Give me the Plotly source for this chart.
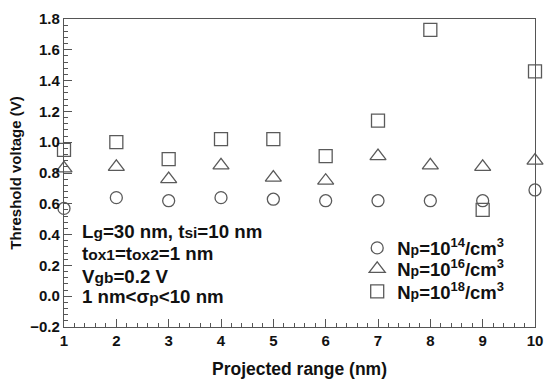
import plotly.graph_objects as go

x_range_nm = [1, 2, 3, 4, 5, 6, 7, 8, 9, 10]
vth_np14 = [0.57, 0.64, 0.62, 0.64, 0.63, 0.62, 0.62, 0.62, 0.62, 0.69]
vth_np16 = [0.83, 0.84, 0.76, 0.85, 0.77, 0.75, 0.91, 0.85, 0.84, 0.88]
vth_np18 = [0.95, 1.00, 0.89, 1.02, 1.02, 0.91, 1.14, 1.73, 0.56, 1.46]

series_names = [
    "N<span style='font-size:14px'>p</span>=10<sup>14</sup>/cm<sup>3</sup>",
    "N<span style='font-size:14px'>p</span>=10<sup>16</sup>/cm<sup>3</sup>",
    "N<span style='font-size:14px'>p</span>=10<sup>18</sup>/cm<sup>3</sup>",
]
series_symbols = ["circle-open", "triangle-up-open", "square-open"]
series_sizes = [12, 14, 13]
series_values = [vth_np14, vth_np16, vth_np18]
legend_ids = ["legend", "legend2", "legend3"]
legend_y = [0.317, 0.249, 0.176]

FONT = "Liberation Sans, Arial, sans-serif"
MCOL = "#5a5a5a"

fig = go.Figure()
for name, sym, sz, vals, lg in zip(series_names, series_symbols, series_sizes, series_values, legend_ids):
    fig.add_trace(go.Scatter(
        x=x_range_nm, y=vals, mode="markers", name=name, cliponaxis=False, legend=lg,
        marker=dict(symbol=sym, size=sz, color=MCOL, line=dict(color=MCOL, width=1.3)),
    ))

ann_lines = [
    "L<span style='font-size:15.5px'>g</span>=30 nm, t<span style='font-size:15.5px'>si</span>=10 nm",
    "t<span style='font-size:15.5px'>ox1</span>=t<span style='font-size:15.5px'>ox2</span>=1 nm",
    "V<span style='font-size:15.5px'>gb</span>=0.2 V",
    "1 nm&lt;σ<span style='font-size:15.5px'>p</span>&lt;10 nm",
]
ann_y = [0.311, 0.238, 0.165, 0.100]
for txt, yy in zip(ann_lines, ann_y):
    fig.add_annotation(x=0.033, y=yy, xref="paper", yref="paper", text=txt,
                       showarrow=False, xanchor="left", yanchor="middle", align="left",
                       font=dict(family=FONT, size=18.7, color="#111", weight="bold"))

axis_common = dict(
    showline=True, linecolor="#555", linewidth=1.2, mirror=True,
    ticks="inside", ticklen=8, tickwidth=1, tickcolor="#555",
    showgrid=False, zeroline=False,
    tickfont=dict(family=FONT, size=15, color="#111", weight="bold"),
)

fig.update_xaxes(
    range=[1, 10], tick0=1, dtick=1, **axis_common,
    minor=dict(ticks="inside", ticklen=4, dtick=0.2, tick0=1, tickcolor="#555", tickwidth=1, showgrid=False),
    title=dict(text="Projected range (nm)", standoff=14,
               font=dict(family=FONT, size=17.5, color="#111", weight="bold")),
)
fig.update_yaxes(
    range=[-0.2, 1.8], tick0=-0.2, dtick=0.2, tickformat=".1f", **axis_common,
    minor=dict(ticks="inside", ticklen=4, dtick=0.04, tick0=-0.2, tickcolor="#555", tickwidth=1, showgrid=False),
    title=dict(text="Threshold voltage (V)", standoff=5,
               font=dict(family=FONT, size=15, color="#111", weight="bold")),
)

legend_style = dict(x=0.6225, xanchor="left", yanchor="top", bgcolor="rgba(0,0,0,0)",
                    font=dict(family=FONT, size=18.5, color="#111", weight="bold"),
                    itemsizing="trace")

fig.update_layout(
    width=553, height=385,
    margin=dict(l=64, r=10, t=12, b=54),
    paper_bgcolor="white", plot_bgcolor="white",
    showlegend=True,
    legend=dict(y=legend_y[0], **legend_style),
    legend2=dict(y=legend_y[1], **legend_style),
    legend3=dict(y=legend_y[2], **legend_style),
)

fig.write_html("out.html")
